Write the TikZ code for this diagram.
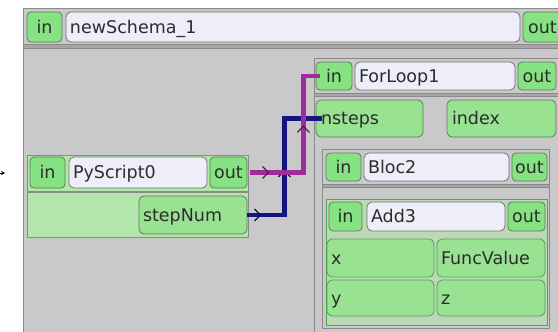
\documentclass[tikz,border=0pt]{standalone}
\usepackage{fontspec}
\setmainfont{DejaVu Sans}
\usetikzlibrary{arrows.meta,decorations.markings}

\definecolor{panelgray}{HTML}{C9C9C9}
\definecolor{framegray}{HTML}{8A8A8A}
\definecolor{sepgray}{HTML}{A6A6A6}
\definecolor{portgreen}{HTML}{86E282}
\definecolor{slotgreen}{HTML}{98E292}
\definecolor{paleblock}{HTML}{B2E6AA}
\definecolor{addblock}{HTML}{BCD8B6}
\definecolor{portedge}{HTML}{5E7A5E}
\definecolor{addedge}{HTML}{4EA64E}
\definecolor{titlefill}{HTML}{EDEEF8}
\definecolor{titleedge}{HTML}{727272}
\definecolor{labelink}{HTML}{2C2C2C}
\definecolor{wiremag}{HTML}{A02C9C}
\definecolor{wirenavy}{HTML}{141482}

\tikzset{
  lbl/.style={font=\fontsize{17.5}{20}\selectfont, text=labelink,
    text height=12.6pt, text depth=0pt},
  port/.style={lbl, draw=portedge, fill=portgreen, rounded corners=4pt,
    line width=0.8pt, inner sep=0pt},
  titlebox/.style={lbl, draw=titleedge, fill=titlefill, rounded corners=5pt,
    line width=0.8pt, inner xsep=4pt, inner ysep=0pt, align=left},
  slot/.style={lbl, draw=portedge, fill=slotgreen, rounded corners=5pt,
    line width=0.8pt, inner xsep=5pt, inner ysep=0pt, align=left},
  addslot/.style={slot, draw=addedge, inner xsep=4pt},
  container/.style={draw=framegray, fill=panelgray, line width=1pt},
  separator/.style={draw=framegray, fill=sepgray, line width=0.6pt},
  wire/.style={line width=4.8pt},
  barb/.tip={Straight Barb[length=6pt,width=12pt,line width=1.2pt]},
}

\begin{document}
\begin{tikzpicture}[x=1pt, y=-1pt]
\useasboundingbox (0,0) rectangle (558,332);
\clip (0,0) rectangle (558,332);
\fill[white] (0,0) rectangle (558,332);

% newSchema_1 frame
\draw[container] (23,8) rectangle (575,345);
\draw[separator] (23,44) rectangle (575,48);
\node[port, minimum width=35, minimum height=30] (ns-in) at (44.5,27) {in};
\node[titlebox, text width=446, minimum height=30] (ns-title) at (293,27) {newSchema\_1};
\node[port, minimum width=39, minimum height=30] (ns-out) at (542.5,27) {out};

% incoming connector tip on the left
\coordinate (lead-a) at (-6,173);
\coordinate (lead-b) at (5,173);
\draw[line width=1pt, -{Stealth[length=4pt,width=4pt]}] (lead-a) -- (lead-b);

% PyScript0 block
\draw[draw=framegray, fill=paleblock, line width=1pt] (27,155) rectangle (248,237);
\draw[draw=framegray, line width=1.6pt] (27,192) -- (248,192);
\node[port, minimum width=35, minimum height=31] (ps-in) at (47.5,172.5) {in};
\node[titlebox, text width=130, minimum height=31] (ps-title) at (138,172.5) {PyScript0};
\node[port, minimum width=37, minimum height=31] (ps-out) at (228.5,172.5) {out};
\node[slot, text width=100, minimum height=38, inner xsep=4pt] (ps-step) at (193,215) {stepNum};

% ForLoop1 block
\draw[container] (314,58) rectangle (575,345);
\draw[separator] (314,93) rectangle (575,96);
\node[port, minimum width=36, minimum height=28] (fl-in) at (334,76) {in};
\node[titlebox, text width=152, minimum height=28] (fl-title) at (435,76) {ForLoop1};
\node[port, minimum width=38, minimum height=28] (fl-out) at (537,76) {out};
\node[slot, text width=97, minimum height=37] (fl-nsteps) at (369.5,118.5) {nsteps};
\node[slot, text width=99, minimum height=37] (fl-index) at (501.5,118.5) {index};

% Bloc2 block
\draw[container] (322,149) rectangle (549,328);
\draw[separator] (322,184) rectangle (549,187);
\node[port, minimum width=35, minimum height=28] (b2-in) at (343.5,167) {in};
\node[titlebox, text width=137, minimum height=28] (b2-title) at (436.5,167) {Bloc2};
\node[port, minimum width=35, minimum height=28] (b2-out) at (529.5,167) {out};

% Add3 block
\draw[draw=addedge, fill=addblock, line width=1pt] (326,199) rectangle (547,325);
\node[port, minimum width=33, minimum height=29] (a3-in) at (345.5,216.5) {in};
\node[titlebox, text width=130, minimum height=29] (a3-title) at (436,216.5) {Add3};
\node[port, minimum width=37, minimum height=29] (a3-out) at (526.5,216.5) {out};
\node[addslot, text width=99, minimum height=38] (a3-x) at (380.5,258) {x};
\node[addslot, text width=100, minimum height=38] (a3-fv) at (491,258) {FuncValue};
\node[addslot, text width=99, minimum height=36] (a3-y) at (380.5,298) {y};
\node[addslot, text width=100, minimum height=36] (a3-z) at (491,298) {z};

% connections
\draw[wire, wirenavy, shorten >=-6pt,
  decoration={markings,
    mark=at position 14pt with {\arrow[wirenavy!60!black]{barb}},
    mark=at position 82pt with {\arrow[wirenavy!60!black]{barb}}},
  postaction=decorate]
  (ps-step.east) -- ++(37,0) |- (fl-nsteps.west);
\draw[wire, wiremag, shorten >=-4pt, shorten <=3pt,
  decoration={markings,
    mark=at position 22pt with {\arrow[wiremag!55!black]{barb}},
    mark=at position 103pt with {\arrow[wiremag!55!black]{barb}}},
  postaction=decorate]
  (ps-out.east) -- ++(56,0) |- (fl-in.west);
\end{tikzpicture}
\end{document}
